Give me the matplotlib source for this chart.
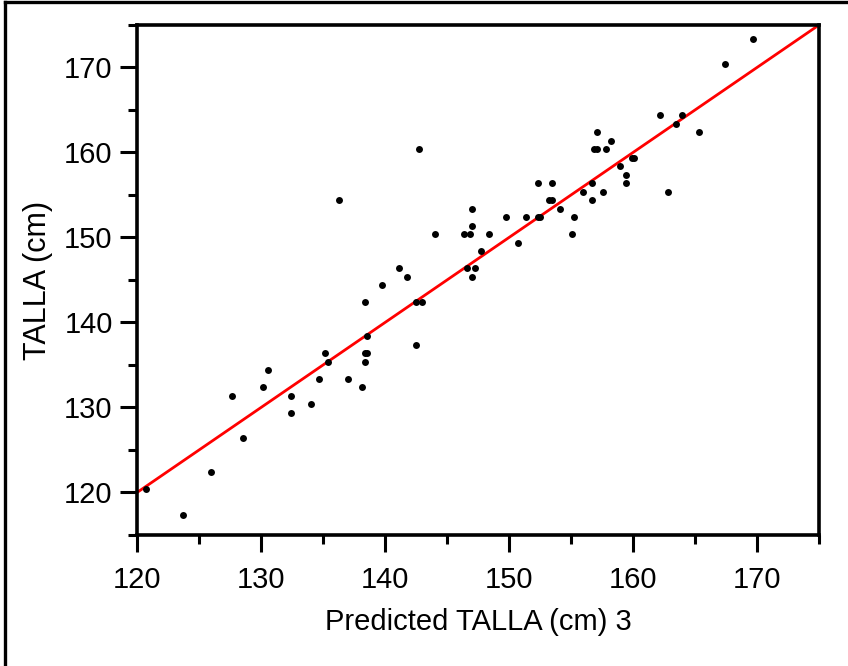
import numpy as np
import matplotlib
matplotlib.use("Agg")
import matplotlib.pyplot as plt
from matplotlib.lines import Line2D

plt.rcParams['font.family'] = ['Liberation Sans', 'DejaVu Sans']

# ── data ────────────────────────────────────────────────────
predicted = [120.76, 123.71, 126.00, 127.64, 128.55, 130.14, 130.60, 132.42, 132.42,
             134.00, 134.71, 135.16, 135.38,
             142.72, 136.32, 147.05, 149.79, 147.05, 144.06, 146.35, 146.83, 148.42,
             150.70, 147.74, 146.59, 147.26, 147.05, 141.10, 141.80, 139.73, 138.36,
             142.48, 142.96, 138.58, 142.48, 138.36, 138.58, 138.36, 136.99, 138.12,
             162.15, 163.95, 163.50, 165.30, 157.13, 156.89, 157.13, 157.80, 158.26,
             159.92, 160.11, 158.95, 159.41, 159.41, 156.67, 155.97, 157.58, 162.82,
             156.67, 152.31, 153.44, 153.23, 153.44, 154.14, 155.27, 155.05, 151.40,
             152.31, 152.53,
             169.68, 167.40]
talla = [120.4, 117.4, 122.4, 131.4, 126.4, 132.4, 134.4, 131.4, 129.4,
         130.4, 133.4, 136.4, 135.4,
         160.4, 154.4, 153.4, 152.4, 151.4, 150.4, 150.4, 150.4, 150.4,
         149.4, 148.4, 146.4, 146.4, 145.4, 146.4, 145.4, 144.4, 142.4,
         142.4, 142.4, 138.4, 137.4, 136.4, 136.4, 135.4, 133.4, 132.4,
         164.4, 164.4, 163.4, 162.4, 162.4, 160.4, 160.4, 160.4, 161.4,
         159.4, 159.4, 158.4, 157.4, 156.4, 156.4, 155.4, 155.4, 155.4,
         154.4, 156.4, 156.4, 154.4, 154.4, 153.4, 152.4, 150.4, 152.4,
         152.4, 152.4,
         173.4, 170.4]
fit_x = [120, 175]
fit_y = [120, 175]

x_major = [120, 130, 140, 150, 160, 170]
x_minor = [125, 135, 145, 155, 165, 175]
y_major = [120, 130, 140, 150, 160, 170]
y_minor = [115, 125, 135, 145, 155, 165, 175]

# ── figure ──────────────────────────────────────────────────
fig = plt.figure(figsize=(8.48, 6.66), dpi=100)
ax = fig.add_axes([0.1616, 0.1967, 0.8042, 0.7658])

ax.plot(predicted, talla, "o", color="black", ms=5.0, mew=0, zorder=3)
ax.plot(fit_x, fit_y, color="#ff0000", lw=2.0, zorder=2)

ax.set_xlim(120, 175)
ax.set_ylim(115, 175)
ax.set_xticks(x_major)
ax.set_xticks(x_minor, minor=True)
ax.set_yticks(y_major)
ax.set_yticks(y_minor, minor=True)

for s in ax.spines.values():
    s.set_linewidth(2.6)
ax.tick_params(which="major", length=12.5, width=2.2, labelsize=21)
ax.tick_params(axis="x", which="major", pad=10)
ax.tick_params(axis="y", which="major", pad=5)
ax.tick_params(which="minor", length=6.5, width=2.2)

ax.set_xlabel("Predicted TALLA (cm) 3", fontsize=21, labelpad=10)
ax.set_ylabel("TALLA (cm)", fontsize=22, labelpad=8)

# partial outer frame (top and left edges)
fig.add_artist(Line2D([0.006, 0.006], [0, 0.997], color="black", lw=2.4,
                      transform=fig.transFigure))
fig.add_artist(Line2D([0.006, 1.0], [0.997, 0.997], color="black", lw=2.4,
                      transform=fig.transFigure))

fig.savefig("out.png", dpi=100)
